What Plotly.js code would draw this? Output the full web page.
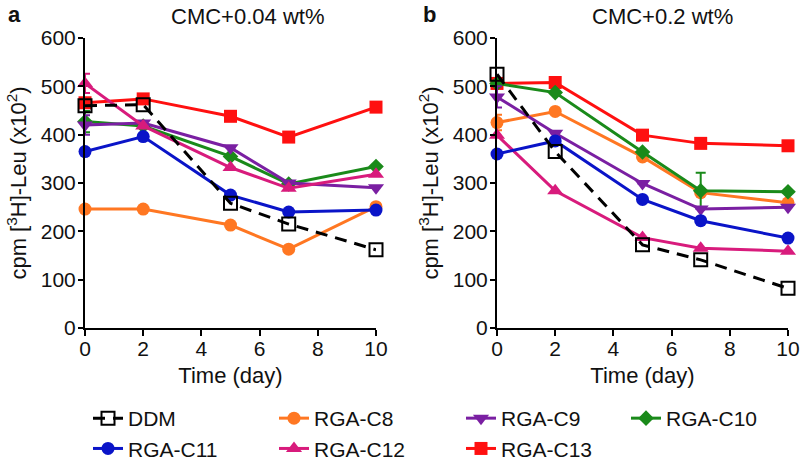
<!DOCTYPE html>
<html>
<head>
<meta charset="utf-8">
<script src="https://cdn.plot.ly/plotly-3.0.1.min.js"></script>
<style>html,body{margin:0;padding:0;background:#fff;}#chart{width:800px;height:466px;}</style>
</head>
<body>
<div id="chart"></div>
<script>
// ---- data ----
const days = [0, 2, 5, 7, 10];
const seriesNames = ['DDM', 'RGA-C8', 'RGA-C9', 'RGA-C10', 'RGA-C11', 'RGA-C12', 'RGA-C13'];

// Panel a: CMC+0.04 wt%
const ddmA = [460, 462, 258, 215, 162];
const c8A  = [246, 246, 213, 163, 251];
const c9A  = [420, 424, 373, 300, 290];
const c10A = [427, 418, 355, 298, 334];
const c11A = [365, 396, 275, 240, 244];
const c12A = [506, 418, 332, 289, 318];
const c13A = [466, 474, 438, 395, 457];
const errC9A  = [20, 0, 0, 0, 0];
const errC10A = [22, 0, 0, 0, 0];
const errC12A = [20, 0, 0, 0, 0];

// Panel b: CMC+0.2 wt%
const ddmB = [525, 365, 172, 141, 82];
const c8B  = [425, 448, 354, 280, 259];
const c9B  = [478, 403, 299, 246, 250];
const c10B = [506, 487, 364, 284, 282];
const c11B = [360, 387, 266, 222, 186];
const c12B = [399, 284, 187, 165, 159];
const c13B = [506, 508, 399, 382, 377];
const errC8B  = [16, 0, 0, 0, 0];
const errC9B  = [22, 0, 0, 0, 0];
const errC10B = [0, 0, 0, 37, 0];

const panelTitles = ['CMC+0.04 wt%', 'CMC+0.2 wt%'];
const panelLetters = ['a', 'b'];
const xTicks = [0, 2, 4, 6, 8, 10];
const yTicks = [0, 100, 200, 300, 400, 500, 600];

// ---- styles ----
const styles = {
  'DDM':     {color: '#000000', symbol: 'square-open', size: 13, dash: '12px,8px', lw: 3, leg: 'legend'},
  'RGA-C8':  {color: '#FF7722', symbol: 'circle', size: 13, dash: 'solid', lw: 3, leg: 'legend2'},
  'RGA-C9':  {color: '#7A1FA2', symbol: 'triangle-down', size: 14, dash: 'solid', lw: 3, leg: 'legend3'},
  'RGA-C10': {color: '#1A8A1A', symbol: 'diamond', size: 12, dash: 'solid', lw: 3, leg: 'legend4'},
  'RGA-C11': {color: '#0A14C8', symbol: 'circle', size: 13, dash: 'solid', lw: 3, leg: 'legend'},
  'RGA-C12': {color: '#D81B7C', symbol: 'triangle-up', size: 14, dash: 'solid', lw: 3, leg: 'legend2'},
  'RGA-C13': {color: '#FF1010', symbol: 'square', size: 13, dash: 'solid', lw: 3, leg: 'legend3'}
};

const panelA = {'DDM': [ddmA, null], 'RGA-C8': [c8A, null], 'RGA-C9': [c9A, errC9A], 'RGA-C10': [c10A, errC10A],
                'RGA-C11': [c11A, null], 'RGA-C12': [c12A, errC12A], 'RGA-C13': [c13A, null]};
const panelB = {'DDM': [ddmB, null], 'RGA-C8': [c8B, errC8B], 'RGA-C9': [c9B, errC9B], 'RGA-C10': [c10B, errC10B],
                'RGA-C11': [c11B, null], 'RGA-C12': [c12B, null], 'RGA-C13': [c13B, null]};

const drawOrder = ['RGA-C13', 'RGA-C8', 'RGA-C10', 'RGA-C9', 'RGA-C12', 'RGA-C11', 'DDM'];

const traces = [];
[[panelA, 'x', 'y', true], [panelB, 'x2', 'y2', false]].forEach(([panel, xa, ya, showLeg]) => {
  drawOrder.forEach(name => {
    const st = styles[name];
    const [vals, err] = panel[name];
    const t = {
      x: days, y: vals, xaxis: xa, yaxis: ya, name: name,
      type: 'scatter', mode: 'lines+markers', cliponaxis: false,
      line: {color: st.color, width: st.lw, dash: st.dash},
      marker: {color: st.color, symbol: st.symbol, size: st.size, line: {width: st.symbol === 'square-open' ? 2 : 0, color: st.color}},
      showlegend: showLeg, legend: st.leg, legendrank: seriesNames.indexOf(name) + 1
    };
    if (err) t.error_y = {type: 'data', array: err, visible: true, color: st.color, thickness: 2, width: 5};
    traces.push(t);
  });
});

const font = 'Liberation Sans, Arial, sans-serif';
function xAxis(domain, anchor) {
  return {domain: domain, anchor: anchor, range: [0, 10], tickvals: xTicks, showline: true, linewidth: 2, linecolor: '#000',
    ticks: 'outside', ticklen: 6, tickwidth: 2, tickcolor: '#000', showgrid: false, zeroline: false, automargin: false,
    tickfont: {size: 21, color: '#111'}, ticklabelstandoff: -5,
    title: {text: 'Time (day)', font: {size: 22, color: '#111'}, standoff: 8}};
}
function yAxis(domain, anchor) {
  return {domain: domain, anchor: anchor, range: [0, 600], tickvals: yTicks, showline: true, linewidth: 2, linecolor: '#000',
    ticks: 'outside', ticklen: 5, tickwidth: 2, tickcolor: '#000', showgrid: false, zeroline: false, automargin: false,
    tickfont: {size: 21, color: '#111'}, ticklabelstandoff: -2,
    title: {text: 'cpm [<sup>3</sup>H]-Leu (x10<sup>2</sup>)', font: {size: 22, color: '#111'}, standoff: 8}};
}
function legendAt(px) {
  return {orientation: 'v', x: px / 800, y: 1 - 398 / 466, xanchor: 'left', yanchor: 'top',
    font: {size: 21, color: '#111'}, traceorder: 'normal', tracegroupgap: 0, bgcolor: 'rgba(0,0,0,0)'};
}

const yDom = [1 - 328 / 466, 1 - 38 / 466];
const layout = {
  width: 800, height: 466,
  margin: {l: 0, r: 0, t: 0, b: 0, autoexpand: false},
  paper_bgcolor: '#fff', plot_bgcolor: '#fff',
  font: {family: font, color: '#111'},
  xaxis: xAxis([85 / 800, 376 / 800], 'y'),
  yaxis: yAxis(yDom, 'x'),
  xaxis2: xAxis([497 / 800, 788 / 800], 'y2'),
  yaxis2: yAxis(yDom, 'x2'),
  legend: legendAt(88),
  legend2: legendAt(274),
  legend3: legendAt(461),
  legend4: legendAt(626),
  annotations: [
    {text: panelTitles[0], xref: 'paper', yref: 'paper', x: 247 / 800, y: 1 - 16 / 466, xanchor: 'center', yanchor: 'middle', showarrow: false, font: {size: 22}},
    {text: panelTitles[1], xref: 'paper', yref: 'paper', x: 662 / 800, y: 1 - 16 / 466, xanchor: 'center', yanchor: 'middle', showarrow: false, font: {size: 22}},
    {text: '<b>' + panelLetters[0] + '</b>', xref: 'paper', yref: 'paper', x: 14 / 800, y: 1, xanchor: 'center', yanchor: 'top', showarrow: false, font: {size: 22}},
    {text: '<b>' + panelLetters[1] + '</b>', xref: 'paper', yref: 'paper', x: 429 / 800, y: 1, xanchor: 'center', yanchor: 'top', showarrow: false, font: {size: 22}}
  ]
};

Plotly.newPlot('chart', traces, layout, {staticPlot: true});
</script>
</body>
</html>
